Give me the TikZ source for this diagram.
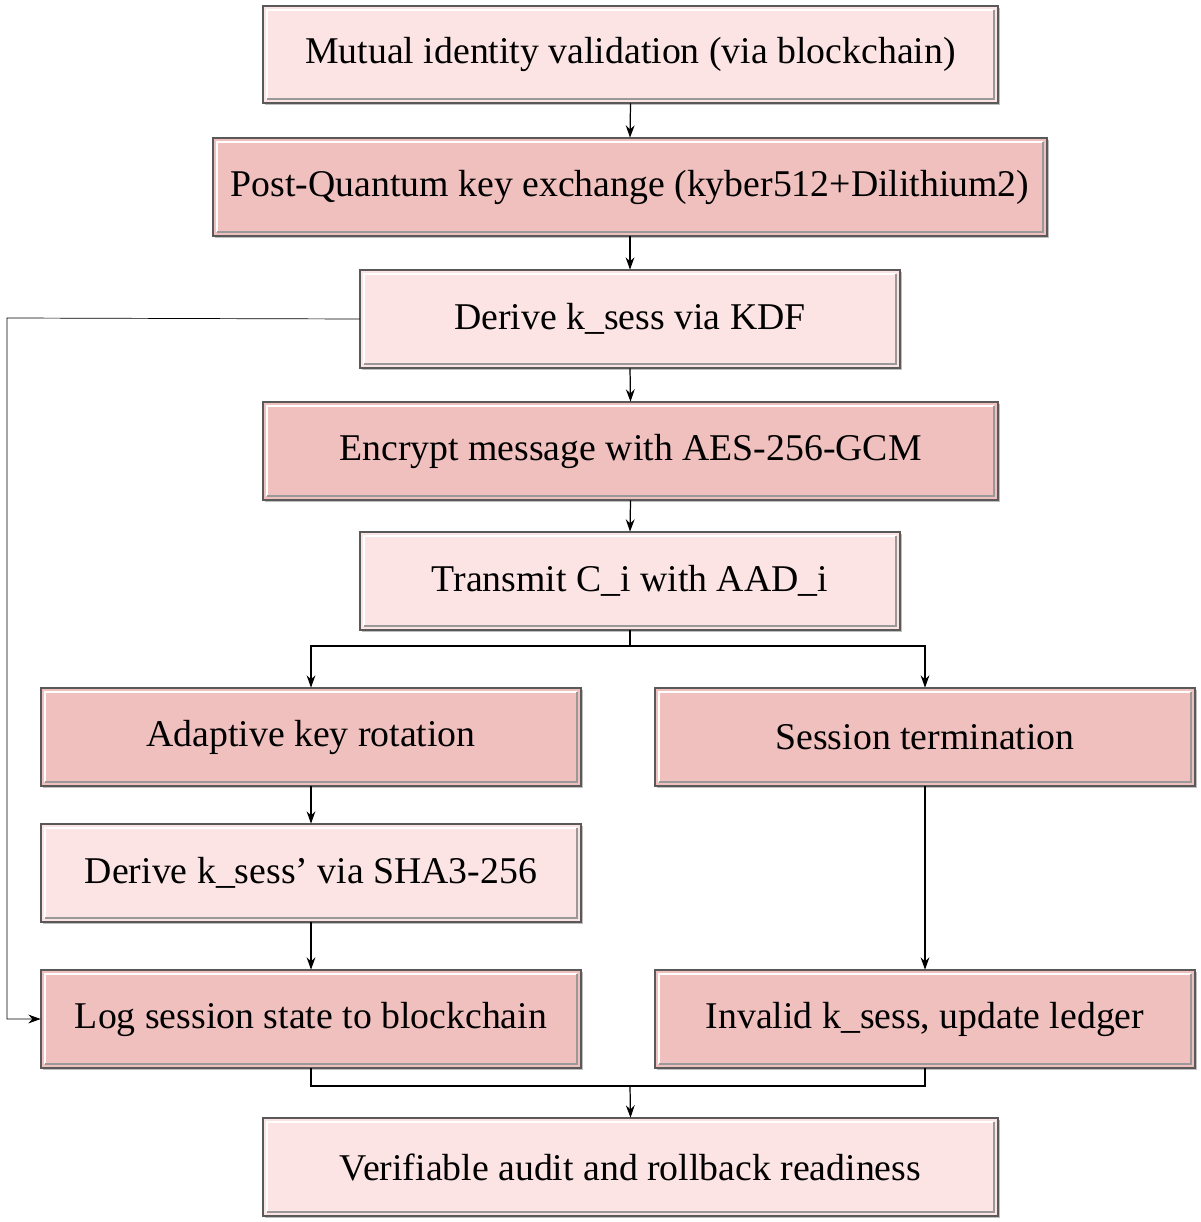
\documentclass[tikz,border=0pt]{standalone}
\usepackage{fontspec}
\setmainfont{Liberation Serif}
\usetikzlibrary{arrows.meta,shadows}
\definecolor{lite}{HTML}{FDE4E4}
\definecolor{dark}{HTML}{F0C0BE}
\begin{document}
\begin{tikzpicture}[x=0.02cm,y=-0.02cm,
 box/.style={draw=black!65,line width=0.8pt,fill=#1,inner sep=0pt,
   drop shadow={shadow xshift=1.2pt,shadow yshift=-1.2pt,fill=black!50}},
 arr/.style={-{Stealth[length=7pt,width=5pt]},line width=0.7pt},
 ln/.style={line width=0.7pt}]
\useasboundingbox (0,0) rectangle (1200,1222);
\newcommand\bx[7]{%
 \path[box=#7] (#2,#4) rectangle (#3,#5);
 \draw[white,line width=1.2pt] (#2+4,#5-4)--(#2+4,#4+4)--(#3-4,#4+4);
 \draw[black!40,line width=1.2pt] (#2+4,#5-4)--(#3-4,#5-4)--(#3-4,#4+4);
 \node (#1) at ({(#2+#3)/2},{(#4+#5)/2}) [minimum width={(#3-#2)*0.02cm},minimum height={(#5-#4)*0.02cm},inner sep=0pt,font=\fontsize{21.5}{25}\selectfont] {#6};}
\bx{a}{263}{998}{6}{103}{Mutual identity validation (via blockchain)}{lite}
\bx{b}{213}{1047}{138}{236}{Post-Quantum key exchange (kyber512+Dilithium2)}{dark}
\bx{c}{360}{900}{270}{368}{Derive k\_sess via KDF}{lite}
\bx{d}{263}{998}{402}{500}{Encrypt message with AES-256-GCM}{dark}
\bx{e}{360}{900}{532}{630}{Transmit C\_i with AAD\_i}{lite}
\bx{f}{41}{581}{688}{786}{Adaptive key rotation}{dark}
\bx{g}{655}{1195}{688}{786}{Session termination}{dark}
\bx{h}{41}{581}{824}{922}{Derive k\_sess’ via SHA3-256}{lite}
\bx{i}{41}{581}{970}{1068}{Log session state to blockchain}{dark}
\bx{j}{655}{1195}{970}{1068}{Invalid k\_sess, update ledger}{dark}
\bx{k}{263}{998}{1118}{1216}{Verifiable audit and rollback readiness}{lite}
\draw[arr] (a.south)--(b.north);
\draw[arr] (b.south)--(c.north);
\draw[arr] (c.south)--(d.north);
\draw[arr] (d.south)--(e.north);
\coordinate (t) at (630,646);
\draw[ln] (e.south)--(t);
\draw[arr] (t)-|(f.north);
\draw[arr] (t)-|(g.north);
\draw[arr] (f.south)--(h.north);
\draw[arr] (h.south)--(i.north);
\draw[arr] (g.south)--(j.north);
\coordinate (lft) at (7,318);
\draw[arr,line width=0.4pt] (c.west)--(lft)|-(i.west);
\coordinate (m) at (630,1086);
\draw[ln] (i.south)|-(m)-|(j.south);
\draw[arr] (m)--(k.north);
\end{tikzpicture}
\end{document}
